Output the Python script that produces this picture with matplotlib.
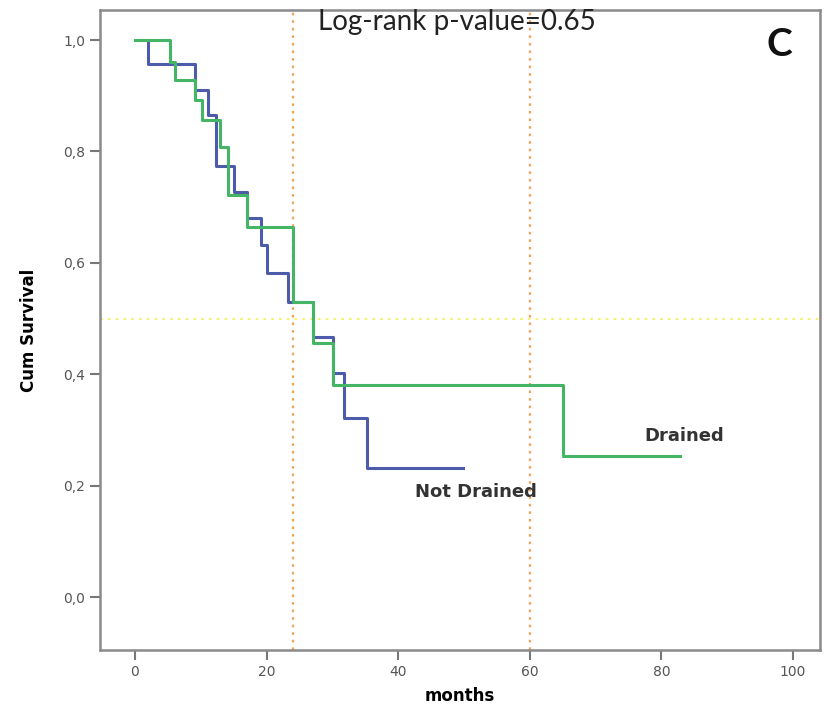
import matplotlib
matplotlib.use('Agg')
import matplotlib.pyplot as plt
import numpy as np

# Kaplan-Meier steps (time in months, survival after each drop)
nd_times = [0, 2.0, 9.1, 11.1, 12.3, 15.0, 17.0, 19.2, 20.1, 23.3, 27.1, 30.1, 31.8, 35.3, 49.8]
nd_surv = [1.0, 0.957, 0.910, 0.865, 0.774, 0.727, 0.680, 0.632, 0.582, 0.530, 0.467, 0.402, 0.321, 0.231, 0.231]

dr_times = [0, 5.3, 6.1, 9.1, 10.2, 12.9, 14.1, 17.0, 24.0, 27.1, 30.1, 65.0, 82.8]
dr_surv = [1.0, 0.960, 0.928, 0.892, 0.856, 0.808, 0.722, 0.664, 0.530, 0.456, 0.380, 0.254, 0.254]

ref_months = [24, 60]
median_line = 0.5
y_ticks = [0.0, 0.2, 0.4, 0.6, 0.8, 1.0]
y_ticklabels = ['0,0', '0,2', '0,4', '0,6', '0,8', '1,0']
x_ticks = [0, 20, 40, 60, 80, 100]

fig = plt.figure(figsize=(8.28, 7.14), dpi=100)
ax = fig.add_axes([0.1208, 0.0896, 0.8696, 0.8964])

# reference lines
for m in ref_months:
    ax.axvline(m, color='#f5a55a', lw=1.6, ls=(0, (1.2, 2.2)), zorder=1)
ax.axhline(median_line, color='#f2f27a', lw=1.4, ls=(0, (1.5, 2.5)), zorder=1)

# survival curves
ax.step(nd_times, nd_surv, where='post', color='#4d5bab', lw=2.2, zorder=3)
ax.step(dr_times, dr_surv, where='post', color='#43b565', lw=2.2, zorder=4)

ax.set_xlim(-5.3, 104.1)
ax.set_ylim(-0.095, 1.054)
ax.set_xticks(x_ticks)
ax.set_yticks(y_ticks)
ax.set_yticklabels(y_ticklabels)
ax.tick_params(direction='out', length=7, width=1.5, color='#777777',
               labelcolor='#555555', labelsize=10)
for s in ax.spines.values():
    s.set_color('#8a8a8a')
    s.set_linewidth(1.8)

ax.set_xlabel('months', fontsize=12, fontweight='bold', labelpad=6)
ax.set_ylabel('Cum Survival', fontsize=12, fontweight='bold', labelpad=18)

ax.text(27.8, 1.032, 'Log-rank p-value=0.65', family='Lato', fontsize=20,
        color='#222222', va='center', ha='left')
ax.text(96.0, 0.992, 'C', family='Lato', fontsize=28, fontweight='bold',
        color='#111111', va='center', ha='left')
ax.text(77.4, 0.29, 'Drained', fontsize=13, fontweight='bold',
        color='#333333', va='center', ha='left')
ax.text(42.5, 0.188, 'Not Drained', fontsize=13, fontweight='bold',
        color='#333333', va='center', ha='left')

fig.savefig('out.png', dpi=100)
